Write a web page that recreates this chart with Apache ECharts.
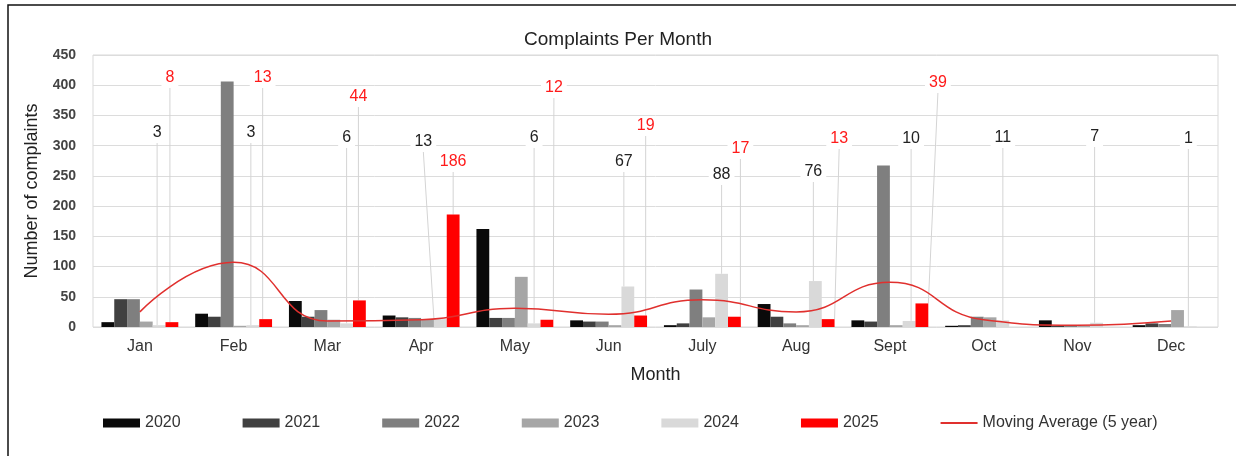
<!DOCTYPE html>
<html>
<head>
<meta charset="utf-8">
<script src="https://cdn.jsdelivr.net/npm/echarts@6/dist/echarts.min.js"></script>
<style>
  html, body { margin: 0; padding: 0; background: #fff; }
  #main { width: 1236px; height: 456px; }
</style>
</head>
<body>
<div id="main"></div>
<script>
// month categories
const months = ['Jan', 'Feb', 'Mar', 'Apr', 'May', 'Jun', 'July', 'Aug', 'Sept', 'Oct', 'Nov', 'Dec'];
const yTicks = [0, 50, 100, 150, 200, 250, 300, 350, 400, 450];

// complaints per year
const y2020 = [8, 22, 43, 19, 162, 11, 3, 38, 11, 2, 11, 3];
const y2021 = [46, 17, 17, 16, 15, 9, 6, 17, 9, 3, 2, 6];
const y2022 = [46, 406, 28, 15, 15, 9, 62, 6, 267, 17, 3, 5];
const y2023 = [9, 2, 12, 12, 83, 3, 16, 3, 3, 16, 2, 28];
const y2024 = [3, 3, 6, 13, 6, 67, 88, 76, 10, 11, 7, 1];
const y2025 = [8, 13, 44, 186, 12, 19, 17, 13, 39];
const movingAvg = [25, 107, 10, 12, 31, 21, 45, 25, 74, 12, 3, 10];

// where the callout labels sit (pixels), not data
const lab2024Y = [133, 133, 138, 142, 138, 162, 175, 172, 139, 138, 137, 139];
const lab2024Dx = [-2, -2, 0, -17, 0, -4, 0, -2, 2, 0, -2, -2];
const lab2025Y = [78, 78, 97, 162, 88, 126, 149, 139, 83];
const lab2025Dx = [-2, -3, -1, 0, 7, 5, 6, 11, 16];

const font = 'Liberation Sans, Arial, sans-serif';

function barSeries(name, data, color) {
  return {
    name: name,
    type: 'bar',
    data: data,
    barGap: 0,
    barCategoryGap: '18%',
    itemStyle: { color: color }
  };
}

// bar with callout label + leader line
function calloutSeries(name, data, color, textColor, ys, dxs) {
  const s = barSeries(name, data, color);
  s.label = {
    show: true,
    position: 'top',
    align: 'center',
    verticalAlign: 'middle',
    color: textColor,
    fontSize: 16,
    fontFamily: font,
    backgroundColor: '#fff',
    padding: [2, 4]
  };
  s.labelLine = {
    show: true,
    lineStyle: { color: '#d4d4d4', width: 1 }
  };
  s.labelLayout = function (p) {
    const i = p.dataIndex;
    return {
      x: p.rect.x + p.rect.width / 2 + dxs[i],
      y: ys[i]
    };
  };
  return s;
}

const chart = echarts.init(document.getElementById('main'));

chart.setOption({
  animation: false,
  title: {
    text: 'Complaints Per Month',
    left: 'center',
    top: 25,
    textStyle: { fontFamily: font, fontSize: 19, fontWeight: 'normal', color: '#222' }
  },
  graphic: [{
    type: 'rect',
    shape: { x: 8, y: 5, width: 1400, height: 600 },
    style: { fill: 'none', stroke: '#111', lineWidth: 1.5 },
    silent: true
  }],
  legend: {
    left: 98,
    top: 410,
    icon: 'rect',
    itemWidth: 37,
    itemHeight: 9,
    itemGap: 62,
    textStyle: { fontFamily: font, fontSize: 16, color: '#333' },
    data: ['2020', '2021', '2022', '2023', '2024', '2025',
      { name: 'Moving Average (5 year)', icon: 'path://M0 0 H40 V2 H0 Z' }]
  },
  grid: {
    left: 93,
    right: 18,
    top: 55,
    bottom: 129,
    show: true,
    borderColor: '#d9d9d9',
    borderWidth: 1
  },
  xAxis: {
    type: 'category',
    data: months,
    name: 'Month',
    nameLocation: 'middle',
    nameGap: 39,
    nameTextStyle: { fontFamily: font, fontSize: 18, color: '#222' },
    axisLine: { show: false },
    axisTick: { show: false },
    axisLabel: { fontFamily: font, fontSize: 16, color: '#333', margin: 12 }
  },
  yAxis: {
    type: 'value',
    min: yTicks[0],
    max: yTicks[yTicks.length - 1],
    interval: 50,
    name: 'Number of complaints',
    nameLocation: 'middle',
    nameGap: 52,
    nameTextStyle: { fontFamily: font, fontSize: 18, color: '#222' },
    axisLine: { show: false },
    axisTick: { show: false },
    axisLabel: { fontFamily: font, fontSize: 14, fontWeight: 'bold', color: '#444', margin: 17 },
    splitLine: { lineStyle: { color: '#dcdcdc', width: 1 } }
  },
  series: [
    barSeries('2020', y2020, '#0a0a0a'),
    barSeries('2021', y2021, '#404040'),
    barSeries('2022', y2022, '#7f7f7f'),
    barSeries('2023', y2023, '#a6a6a6'),
    calloutSeries('2024', y2024, '#d9d9d9', '#222', lab2024Y, lab2024Dx),
    calloutSeries('2025', y2025, '#ff0000', '#ff1a1a', lab2025Y, lab2025Dx),
    {
      name: 'Moving Average (5 year)',
      type: 'line',
      data: movingAvg,
      smooth: true,
      symbol: 'none',
      z: 5,
      itemStyle: { color: '#e0302e' },
      lineStyle: { color: '#e0302e', width: 1.5 }
    }
  ]
});
</script>
</body>
</html>
